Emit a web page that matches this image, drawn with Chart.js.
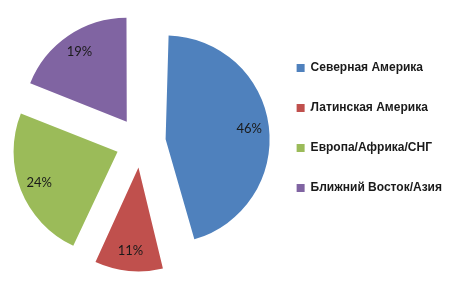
<!DOCTYPE html>
<html>
<head>
<meta charset="utf-8">
<script src="https://cdn.jsdelivr.net/npm/chart.js@4/dist/chart.umd.min.js"></script>
<style>
  html, body { margin: 0; padding: 0; background: #fff; }
  #wrap { width: 468px; height: 285px; }
</style>
</head>
<body>
<div id="wrap"><canvas id="region_chart"></canvas></div>
<script>
// regions and their share, %
const regions = ['Северная Америка', 'Латинская Америка', 'Европа/Африка/СНГ', 'Ближний Восток/Азия'];
const shares = [46, 11, 24, 19];
const colours = ['#4F81BD', '#C0504D', '#9BBB59', '#8064A2'];

const PIE_RADIUS = 104;
const EXPLODE = 100; // chart.js v4 moves an arc by offset / 4

// chart.js also grows an offset arc a bit, take that back so all slices keep one radius
const keepRadius = {
    id: 'keepRadius',
    beforeDatasetsDraw(chart) {
        chart.getDatasetMeta(0).data.forEach(function (arc) {
            const circ = arc.endAngle - arc.startAngle;
            const fix = 1 - Math.sin(Math.min(Math.PI, circ));
            arc.outerRadius = PIE_RADIUS - (arc.options.offset / 4) * fix;
        });
    }
};

// percent labels inside the slices
const sliceLabels = {
    id: 'sliceLabels',
    afterDatasetsDraw(chart) {
        const ctx = chart.ctx;
        const meta = chart.getDatasetMeta(0);
        ctx.save();
        ctx.font = '13px Lato, "Open Sans", sans-serif';
        ctx.fillStyle = '#1a1a1a';
        ctx.textAlign = 'center';
        ctx.textBaseline = 'middle';
        meta.data.forEach(function (arc, i) {
            const mid = (arc.startAngle + arc.endAngle) / 2;
            const d = arc.options.offset / 4 + PIE_RADIUS * 0.81;
            ctx.fillText(shares[i] + '%', arc.x + Math.cos(mid) * d, arc.y + Math.sin(mid) * d);
        });
        ctx.restore();
    }
};

var canvas = document.getElementById('region_chart');
var setup = {
    type: 'pie',
    data: {
        labels: regions,
        datasets: [{
            data: shares,
            backgroundColor: colours,
            borderWidth: 0,
            offset: EXPLODE,
            hoverOffset: 0,
            radius: PIE_RADIUS,
        }]
    },
    options: {
        responsive: true,
        maintainAspectRatio: false,
        animation: false,
        events: [],
        layout: { padding: { left: 13, right: 16, top: 0, bottom: 0 } },
        plugins: {
            tooltip: { enabled: false },
            legend: {
                position: 'right',
                align: 'start',
                title: { display: true, text: '', font: { size: 10 }, padding: { top: 22, bottom: 0 } },
                labels: {
                    boxWidth: 8,
                    boxHeight: 8,
                    padding: 28,
                    color: '#1a1a1a',
                    font: { family: '"Liberation Sans", Arial, sans-serif', size: 12, weight: 'bold' }
                }
            }
        }
    },
    plugins: [keepRadius, sliceLabels]
};
var chart = new Chart(canvas, setup);
</script>
</body>
</html>
